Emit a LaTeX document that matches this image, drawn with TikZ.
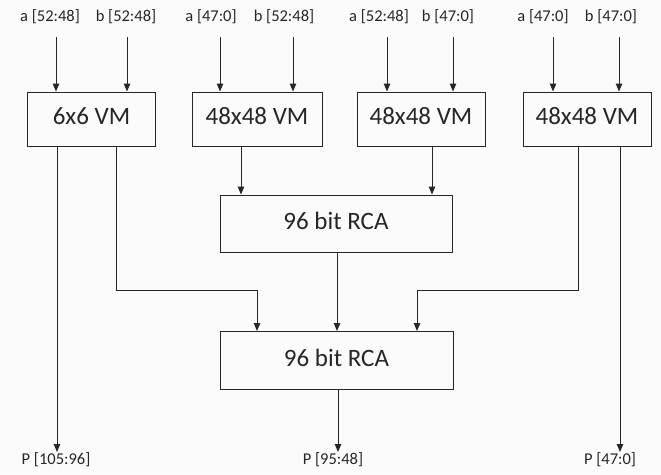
\documentclass[tikz,border=0pt]{standalone}
\usepackage{fontspec}
\setmainfont{Carlito}
\usetikzlibrary{arrows.meta}
\begin{document}
\begin{tikzpicture}[x=1pt,y=-1pt,
  box/.style={draw=black!85, line width=1pt, minimum width=128pt, minimum height=54pt, inner sep=0pt, text height=16pt, text depth=5pt, font=\fontsize{25}{28}\selectfont, text=black!85},
  lbl/.style={inner sep=0pt, font=\fontsize{16.5}{18}\selectfont, text=black!85},
  arr/.style={draw=black!85, line width=1pt, -{Triangle[length=8pt,width=6.5pt]}}]
\fill[gray!3] (0,0) rectangle (661,474);
\useasboundingbox (0,0) rectangle (661,474);

% boxes
\node[box] (vm1) at (91.5,119) {6x6 VM};
\node[box, minimum width=130pt] (vm2) at (257,119) {48x48 VM};
\node[box] (vm3) at (421,119) {48x48 VM};
\node[box] (vm4) at (587,119) {48x48 VM};
\node[box, minimum width=232pt, minimum height=57pt] (rca1) at (336,223.5) {96 bit RCA};
\node[box, minimum width=233pt, minimum height=58pt] (rca2) at (336.5,360.5) {96 bit RCA};

% input labels
\node[lbl] (la1) at (50,17) {a [52:48]};
\node[lbl] (lb1) at (126,17) {b [52:48]};
\node[lbl] (la2) at (211,17) {a [47:0]};
\node[lbl] (lb2) at (284,17) {b [52:48]};
\node[lbl] (la3) at (379,17) {a [52:48]};
\node[lbl] (lb3) at (448,17) {b [47:0]};
\node[lbl] (la4) at (543,17) {a [47:0]};
\node[lbl] (lb4) at (611,17) {b [47:0]};

% input arrow starts
\coordinate (t1) at (56,37);
\coordinate (t2) at (127,37);
\coordinate (t3) at (220,37);
\coordinate (t4) at (293,37);
\coordinate (t5) at (387,37);
\coordinate (t6) at (453,37);
\coordinate (t7) at (553,37);
\coordinate (t8) at (619,37);
\draw[arr] (t1) -- (t1 |- vm1.north);
\draw[arr] (t2) -- (t2 |- vm1.north);
\draw[arr] (t3) -- (t3 |- vm2.north);
\draw[arr] (t4) -- (t4 |- vm2.north);
\draw[arr] (t5) -- (t5 |- vm3.north);
\draw[arr] (t6) -- (t6 |- vm3.north);
\draw[arr] (t7) -- (t7 |- vm4.north);
\draw[arr] (t8) -- (t8 |- vm4.north);

% output labels
\node[lbl] (p1) at (56,460) {P [105:96]};
\node[lbl] (p2) at (333,460) {P [95:48]};
\node[lbl] (p3) at (610,460) {P [47:0]};
\coordinate (e1) at (57,452);
\coordinate (e2) at (338,452);
\coordinate (e3) at (620,452);

% vertical lanes
\coordinate (x2) at (241,0);
\coordinate (x3) at (432,0);
\coordinate (x1) at (116,0);
\coordinate (x4) at (578,0);
\coordinate (xl) at (257,0);
\coordinate (xr) at (417,0);
\coordinate (xm) at (337,0);

% vm outputs
\draw[arr] (e1 |- vm1.south) -- (e1);
\draw[arr] (e3 |- vm4.south) -- (e3);
\draw[arr] (x2 |- vm2.south) -- (x2 |- rca1.north);
\draw[arr] (x3 |- vm3.south) -- (x3 |- rca1.north);

% to second RCA
\coordinate (j1) at (116,290);
\coordinate (j2) at (578,290);
\draw[arr] (x1 |- vm1.south) -- (j1) -- (xl |- j1) -- (xl |- rca2.north);
\draw[arr] (x4 |- vm4.south) -- (j2) -- (xr |- j2) -- (xr |- rca2.north);
\draw[arr] (xm |- rca1.south) -- (xm |- rca2.north);
\draw[arr] (e2 |- rca2.south) -- (e2);
\end{tikzpicture}
\end{document}
